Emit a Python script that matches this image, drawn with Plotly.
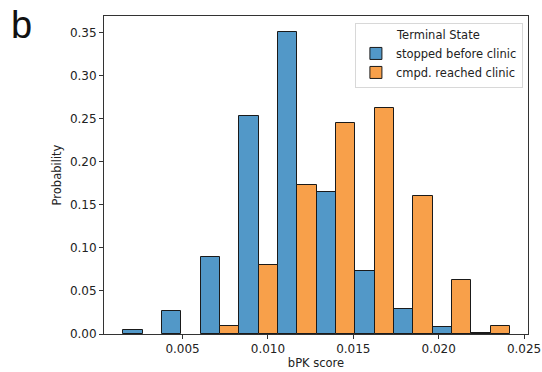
import plotly.graph_objects as go

# Histogram data (seaborn-style dodge histogram, stat="probability")
bin_start = 0.00154
bin_width = 0.002264
stopped = [0.0046, 0.027, 0.090, 0.2536, 0.3508, 0.1646, 0.0736, 0.0287, 0.0085, 0.0015]
reached = [0.0, 0.0, 0.0093, 0.080, 0.1735, 0.2447, 0.2625, 0.1603, 0.0627, 0.0093]
series_names = ["stopped before clinic", "cmpd. reached clinic"]
x_ticks = [0.005, 0.010, 0.015, 0.020, 0.025]
y_ticks = [0.00, 0.05, 0.10, 0.15, 0.20, 0.25, 0.30, 0.35]

n = len(stopped)
half = bin_width / 2
x_blue = [bin_start + i * bin_width + half / 2 for i in range(n)]
x_orange = [bin_start + i * bin_width + 3 * half / 2 for i in range(n)]


def nonzero(vals):
    # empty bins are not drawn (as in seaborn)
    return [v if v > 0 else None for v in vals]


fig = go.Figure()
fig.add_trace(go.Bar(x=x_blue, y=nonzero(stopped), width=[half] * n, name=series_names[0],
                     marker=dict(color="#5298C8", line=dict(color="#1a1a1a", width=1))))
fig.add_trace(go.Bar(x=x_orange, y=nonzero(reached), width=[half] * n, name=series_names[1],
                     marker=dict(color="#F8A04A", line=dict(color="#1a1a1a", width=1))))

font_family = "DejaVu Sans"
fig.update_layout(
    width=542, height=372,
    margin=dict(l=104, r=14, t=16, b=38, autoexpand=False),
    paper_bgcolor="white", plot_bgcolor="white",
    barmode="overlay", bargap=0,
    font=dict(family=font_family, color="#222", size=12),
    showlegend=True,
    legend=dict(
        title=dict(text="Terminal State", side="top center", font=dict(size=11.5)),
        x=0.988, y=0.978, xanchor="right", yanchor="top",
        bgcolor="white", bordercolor="#d8d8d8", borderwidth=1,
        font=dict(size=11.5), tracegroupgap=0,
    ),
    xaxis=dict(
        range=[0.0004, 0.02523], tickvals=x_ticks,
        ticktext=[f"{v:.3f}" for v in x_ticks],
        ticks="outside", ticklen=4, tickcolor="#333",
        showline=True, linecolor="#333", linewidth=1, mirror=True,
        showgrid=False, zeroline=False, automargin=False,
        title=dict(text="bPK score", font=dict(size=11.5), standoff=0),
    ),
    yaxis=dict(
        range=[0, 0.3694], tickvals=y_ticks,
        ticktext=[f"{v:.2f}" for v in y_ticks],
        ticks="outside", ticklen=4, tickcolor="#333",
        showline=True, linecolor="#333", linewidth=1, mirror=True,
        showgrid=False, zeroline=False, automargin=False,
        title=dict(text="Probability", font=dict(size=11.5), standoff=5),
    ),
    annotations=[dict(
        text="b", xref="paper", yref="paper", x=-0.225, y=1.045,
        xanchor="left", yanchor="top", showarrow=False,
        font=dict(family="Liberation Sans", size=38, color="#111"),
    )],
)

fig.write_html("out.html")
